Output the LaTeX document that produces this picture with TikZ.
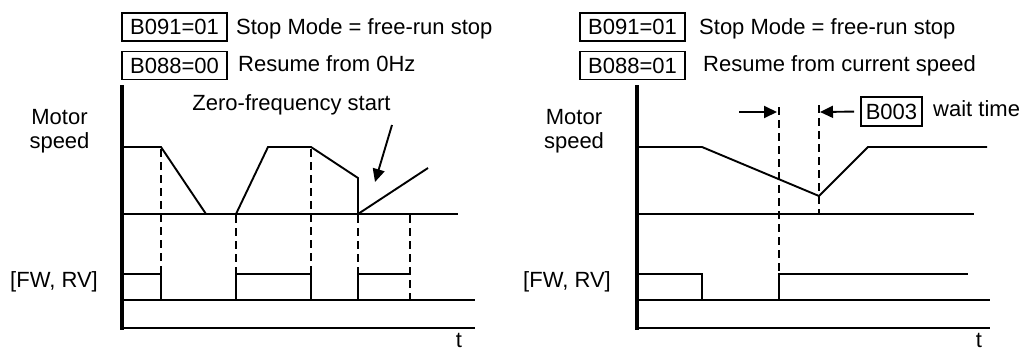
\documentclass[tikz,border=0pt]{standalone}
\usepackage{fontspec}
\setmainfont{Liberation Sans}
\usetikzlibrary{arrows.meta}
\begin{document}
\begin{tikzpicture}[x=1pt,y=-1pt,
  every node/.style={font=\fontsize{22}{24}\selectfont, inner sep=0pt},
  parbox/.style={draw, line width=1.8pt, minimum width=105pt, minimum height=28pt},
  axis/.style={line width=3.2pt},
  base/.style={line width=2.6pt},
  sig/.style={line width=2.2pt},
  speed/.style={line width=1.9pt},
  guide/.style={line width=2.4pt, dash pattern=on 8pt off 5pt},
  pointer/.style={line width=1.9pt, -{Triangle[length=13pt,width=12pt]}}]
\useasboundingbox (0,0) rectangle (1022,351);

% ---------------- left panel ----------------
\node[parbox] (lb1) at (174.5,27) {B091=01};
\node[anchor=base west] (lt1) at (236,34) {Stop Mode = free-run stop};
\node[parbox] (lb2) at (174.5,65.5) {B088=00};
\node[anchor=base west] (lt2) at (238,71) {Resume from 0Hz};
\node[align=center, anchor=base] (lms) at (59.5,148) {Motor\\speed};
\node[anchor=base] (lfw) at (54,287) {[FW, RV]};
\node[anchor=base] (lt) at (459,347) {t};
\node[anchor=base] (zfs) at (291.5,110) {Zero-frequency start};

\draw[axis] (122,85) -- (122,329.5);
\draw[base] (122,214) -- (458,214);
\draw[sig] (122,300) -- (475,300);
\draw[base] (122,328) -- (475,328);
\draw[speed] (122,147) -- (161,147) -- (206,214);
\draw[speed] (236,214) -- (268,147) -- (311,147) -- (358,178) -- (358,214) -- (428,168);
\draw[sig] (122,274) -- (161,274) -- (161,300);
\draw[sig] (236,300) -- (236,274) -- (311,274) -- (311,300);
\draw[sig] (358,300) -- (358,274) -- (410,274);
\draw[guide] (161,149) -- (161,274);
\draw[guide] (236,215) -- (236,274);
\draw[guide] (311,149) -- (311,274);
\draw[guide] (358,215) -- (358,274);
\draw[guide] (410,215) -- (410,301);
\coordinate (zfsA) at (392,125);
\coordinate (zfsB) at (375,182);
\draw[pointer] (zfsA) -- (zfsB);

% ---------------- right panel ----------------
\node[parbox] (rb1) at (632.5,27) {B091=01};
\node[anchor=base west] (rt1) at (699,34) {Stop Mode = free-run stop};
\node[parbox] (rb2) at (632.5,65.5) {B088=01};
\node[anchor=base west] (rt2) at (703,71) {Resume from current speed};
\node[align=center, anchor=base] (rms) at (574,148) {Motor\\speed};
\node[anchor=base] (rfw) at (567,287) {[FW, RV]};
\node[anchor=base] (rt) at (979,347) {t};
\node[draw, line width=1.8pt, minimum width=61pt, minimum height=29pt] (b003) at (891.5,111.5) {B003};
\node[anchor=base west] (wt) at (933,116) {wait time};

\draw[axis] (637,85) -- (637,329.5);
\draw[base] (637,214) -- (974,214);
\draw[sig] (637,300) -- (990,300);
\draw[base] (637,328) -- (990,328);
\draw[speed] (637,147) -- (702,147) -- (819,196) -- (868,147) -- (987,147);
\draw[sig] (637,274) -- (702,274) -- (702,300);
\draw[sig] (779,300) -- (779,274) -- (968,274);
\draw[guide] (779,107) -- (779,274);
\draw[guide] (819,105) -- (819,215);
\coordinate (wa1) at (739,112);
\coordinate (wa2) at (777,112);
\coordinate (wb2) at (820,112);
\draw[pointer] (wa1) -- (wa2);
\draw[pointer, shorten <=6pt] (b003.west) -- (wb2);
\end{tikzpicture}
\end{document}
